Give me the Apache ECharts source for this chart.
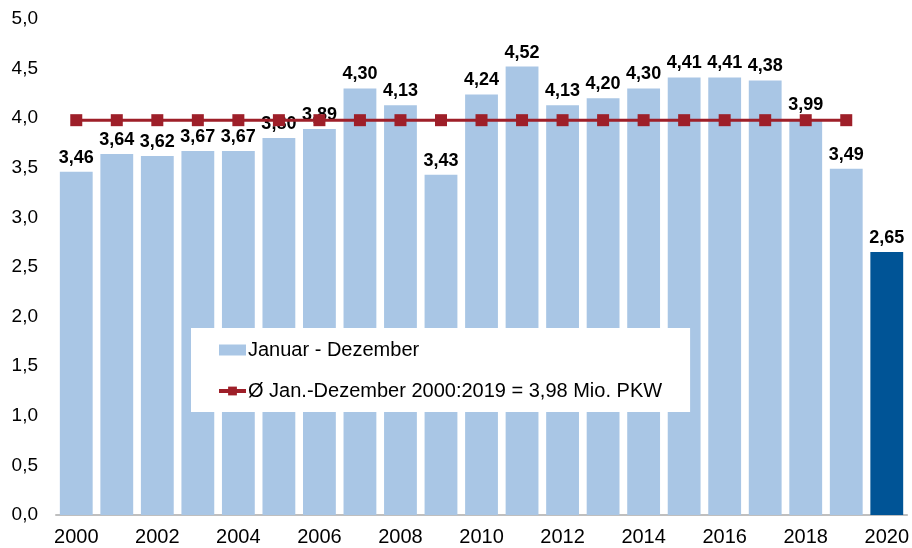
<!DOCTYPE html>
<html>
<head>
<meta charset="utf-8">
<script src="https://cdn.jsdelivr.net/npm/echarts@6/dist/echarts.min.js"></script>
<style>
html,body{margin:0;padding:0;background:#fff;}
#chart{width:912px;height:548px;}
</style>
</head>
<body>
<div id="chart"></div>
<script>
// Neuzulassungen je Jahr (Mio. PKW), Januar bis Dezember
const years = ['2000','2001','2002','2003','2004','2005','2006','2007','2008','2009',
  '2010','2011','2012','2013','2014','2015','2016','2017','2018','2019','2020'];
const values = [3.46,3.64,3.62,3.67,3.67,3.80,3.89,4.30,4.13,3.43,
  4.24,4.52,4.13,4.20,4.30,4.41,4.41,4.38,3.99,3.49,2.65];
// Durchschnitt 2000:2019
const average = 3.98;
const averageValues = years.map((y, i) => (i < 20 ? average : '-'));
const yTicks = [0, 0.5, 1, 1.5, 2, 2.5, 3, 3.5, 4, 4.5, 5];

const barNames = 'Januar - Dezember';
const lineName = 'Ø Jan.-Dezember 2000:2019 = 3,98 Mio. PKW';

const fmt = (v, d) => v.toFixed(d).replace('.', ',');
const font = 'Liberation Sans, Arial, sans-serif';

const chart = echarts.init(document.getElementById('chart'), null, { renderer: 'canvas' });
chart.setOption({
  animation: false,
  textStyle: { fontFamily: font },
  grid: { left: 56, right: 4, top: 19, bottom: 33, containLabel: false },
  legend: {
    left: 191, top: 328, orient: 'vertical',
    backgroundColor: '#ffffff',
    padding: [12, 28, 11, 26],
    itemGap: 21,
    itemWidth: 27, itemHeight: 11,
    textStyle: { fontFamily: font, fontSize: 20, color: '#000', padding: [0, 0, 0, -3] },
    data: [
      { name: barNames, icon: 'rect' },
      { name: lineName, lineStyle: { width: 4 } }
    ]
  },
  xAxis: {
    type: 'category',
    data: years,
    axisTick: { show: false },
    axisLine: { lineStyle: { color: '#BFBFBF', width: 2 } },
    axisLabel: { interval: 1, color: '#000', fontSize: 20, margin: 12, fontFamily: font }
  },
  yAxis: {
    type: 'value',
    min: yTicks[0], max: yTicks[yTicks.length - 1], interval: 0.5,
    splitLine: { show: false },
    axisLine: { show: false },
    axisTick: { show: false },
    axisLabel: { color: '#000', fontSize: 19, margin: 18, fontFamily: font,
      formatter: v => fmt(v, 1) }
  },
  series: [
    {
      name: barNames,
      type: 'bar',
      z: 2,
      barCategoryGap: '19%',
      itemStyle: { color: '#A9C6E5' },
      data: values.map((v, i) => i === 20 ? { value: v, itemStyle: { color: '#005496' } } : v),
      label: {
        show: true, position: 'top', distance: 5,
        fontFamily: font, fontSize: 18, fontWeight: 'bold', color: '#000',
        formatter: p => fmt(p.value, 2)
      }
    },
    {
      name: lineName,
      type: 'line',
      z: 5,
      data: averageValues,
      symbol: 'rect', symbolSize: 12,
      itemStyle: { color: '#9E1F29' },
      lineStyle: { color: '#9E1F29', width: 3 }
    }
  ]
});
</script>
</body>
</html>
